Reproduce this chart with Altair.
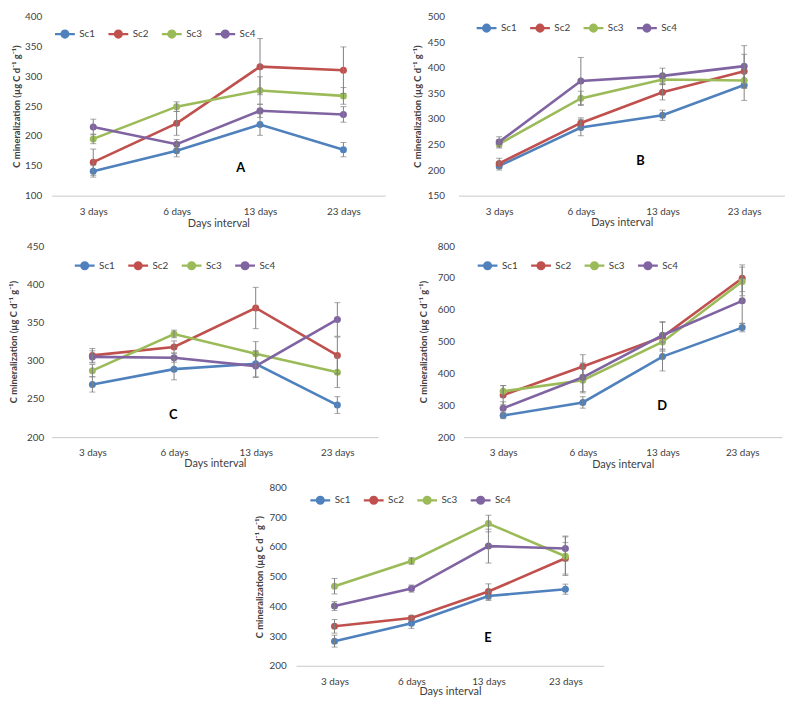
import altair as alt
import pandas as pd

days = ["3 days", "6 days", "13 days", "23 days"]
series = ["Sc1", "Sc2", "Sc3", "Sc4"]
colors = ["#4F81BD", "#C0504D", "#9BBB59", "#8064A2"]

# Panel A  (rows = Sc1..Sc4, columns = days)
a_mean = [[141, 175, 219, 177], [156, 221, 316, 310], [195, 249, 276, 267], [215, 186, 242, 236]]
a_err = [[10, 10, 18, 12], [22, 20, 47, 39], [8, 8, 23, 14], [13, 8, 11, 13]]
# Panel B
b_mean = [[208, 283, 307, 366], [213, 292, 352, 393], [251, 340, 377, 375], [255, 374, 384, 403]]
b_err = [[8, 16, 10, 30], [10, 10, 15, 33], [8, 14, 10, 15], [10, 46, 15, 40]]
# Panel C
c_mean = [[269, 289, 296, 242], [307, 318, 369, 307], [287, 335, 309, 285], [305, 304, 293, 354]]
c_err = [[10, 14, 17, 11], [9, 8, 27, 24], [8, 5, 16, 20], [8, 6, 15, 22]]
# Panel D
d_mean = [[268, 309, 453, 544], [332, 422, 515, 699], [344, 379, 499, 689], [291, 388, 520, 628]]
d_err = [[10, 18, 45, 13], [30, 37, 45, 42], [18, 40, 25, 45], [20, 45, 43, 70]]
# Panel E
e_mean = [[283, 343, 435, 458], [333, 361, 450, 562], [468, 553, 679, 569], [401, 460, 603, 595]]
e_err = [[20, 17, 15, 17], [23, 8, 26, 53], [26, 11, 28, 65], [15, 12, 57, 42]]

ytitle = "C mineralization  (\u00b5g C d\u207b\u00b9 g\u207b\u00b9)"
legend_path = "M-1,0L1,0M-0.35,0A0.35,0.35 0 1,0 0.35,0A0.35,0.35 0 1,0 -0.35,0Z"
FONT = "Lato"
TXT = "#404040"


def panel(letter, means, errs, ymin, ymax, step, w, h, lab_pad, tit_pad, xt_pad,
          leg_x, leg_y, let_x, let_y):
    rows = []
    for si, s in enumerate(series):
        for di, d in enumerate(days):
            m = means[si][di]
            e = errs[si][di]
            rows.append({"day": d, "series": s, "value": m, "lo": m - e, "hi": m + e})
    df = pd.DataFrame(rows)
    x = alt.X("day:N", sort=days, scale=alt.Scale(type="point", padding=0.5),
              axis=alt.Axis(title="Days interval", labelAngle=0, ticks=False, tickSize=0,
                            domainColor="#c8c8c8", domainWidth=1, labelPadding=11,
                            titlePadding=xt_pad, labelFontSize=10, titleFontSize=11,
                            titleFontWeight="normal", labelColor=TXT, titleColor=TXT))
    yscale = alt.Scale(domain=[ymin, ymax], nice=False, zero=False)
    yaxis = alt.Axis(values=list(range(ymin, ymax + 1, step)), grid=False,
                     domain=False, ticks=False, labelPadding=lab_pad,
                     title=ytitle, titleFontWeight="bold", titleFontSize=9.5,
                     titlePadding=tit_pad, labelFontSize=10, labelColor=TXT,
                     titleColor=TXT)
    color = alt.Color("series:N", scale=alt.Scale(domain=series, range=colors),
                      legend=alt.Legend(orient="none", legendX=leg_x, legendY=leg_y,
                                        direction="horizontal", title=None,
                                        symbolType=legend_path, symbolSize=400,
                                        symbolStrokeWidth=2.2, labelFontSize=10,
                                        labelColor=TXT, labelOffset=3, columnPadding=9,
                                        labelFont=FONT))
    base = alt.Chart(df).encode(x=x)
    line = base.mark_line(strokeWidth=2.6).encode(
        y=alt.Y("value:Q", scale=yscale, axis=yaxis, title=ytitle), color=color)
    pts = base.mark_point(filled=True, size=50, opacity=1).encode(
        y=alt.Y("value:Q", scale=yscale, axis=yaxis, title=ytitle), color=color)
    rule = base.mark_rule(color="#7f7f7f", strokeWidth=1).encode(
        y=alt.Y("lo:Q", scale=yscale, axis=yaxis, title=ytitle), y2="hi:Q")
    cap_lo = base.mark_tick(color="#7f7f7f", size=6, thickness=1).encode(
        y=alt.Y("lo:Q", scale=yscale, axis=yaxis, title=ytitle))
    cap_hi = base.mark_tick(color="#7f7f7f", size=6, thickness=1).encode(
        y=alt.Y("hi:Q", scale=yscale, axis=yaxis, title=ytitle))
    lab = alt.Chart(pd.DataFrame({"t": [letter]})).mark_text(
        fontSize=13, fontWeight="bold", color="#000000", baseline="middle", font=FONT
    ).encode(text="t:N", x=alt.value(let_x), y=alt.value(let_y))
    return alt.layer(line, pts, rule, cap_lo, cap_hi, lab).properties(width=w, height=h)


pA = panel("A", a_mean, a_err, 100, 400, 50, 337, 181, 10, 3, 1, 2, 6, 191, 153)
pB = panel("B", b_mean, b_err, 150, 500, 50, 330, 181, 14, 5, 0, 17, 0, 184, 146)
pC = panel("C", c_mean, c_err, 200, 450, 50, 330, 193, 8, 8, 0, 22, 8, 123, 171)
pD = panel("D", d_mean, d_err, 200, 800, 100, 322, 193, 9, 9, 1, 13, 8, 201, 162)
pE = panel("E", e_mean, e_err, 200, 800, 100, 311, 180, 10, 4, -1, 13, 1, 194, 152)

spacer = alt.Chart(pd.DataFrame({"t": [""]})).mark_text().encode(
    text="t:N").properties(width=205, height=10)

row1 = alt.hconcat(pA, pB, spacing=27).resolve_scale(color="independent", y="independent").resolve_legend(color="independent")
row2 = alt.hconcat(pC, pD, spacing=40).resolve_scale(color="independent", y="independent").resolve_legend(color="independent")
row3 = alt.hconcat(spacer, pE, spacing=0).resolve_scale(color="independent", y="independent").resolve_legend(color="independent")

chart = alt.vconcat(row1, row2, row3, spacing=13).resolve_scale(
    color="independent", y="independent", x="independent"
).resolve_legend(color="independent").properties(
    padding=0, background="#ffffff"
).configure(font=FONT).configure_view(stroke=None)

chart.save("out.html", embed_options={"renderer": "svg", "actions": False})
